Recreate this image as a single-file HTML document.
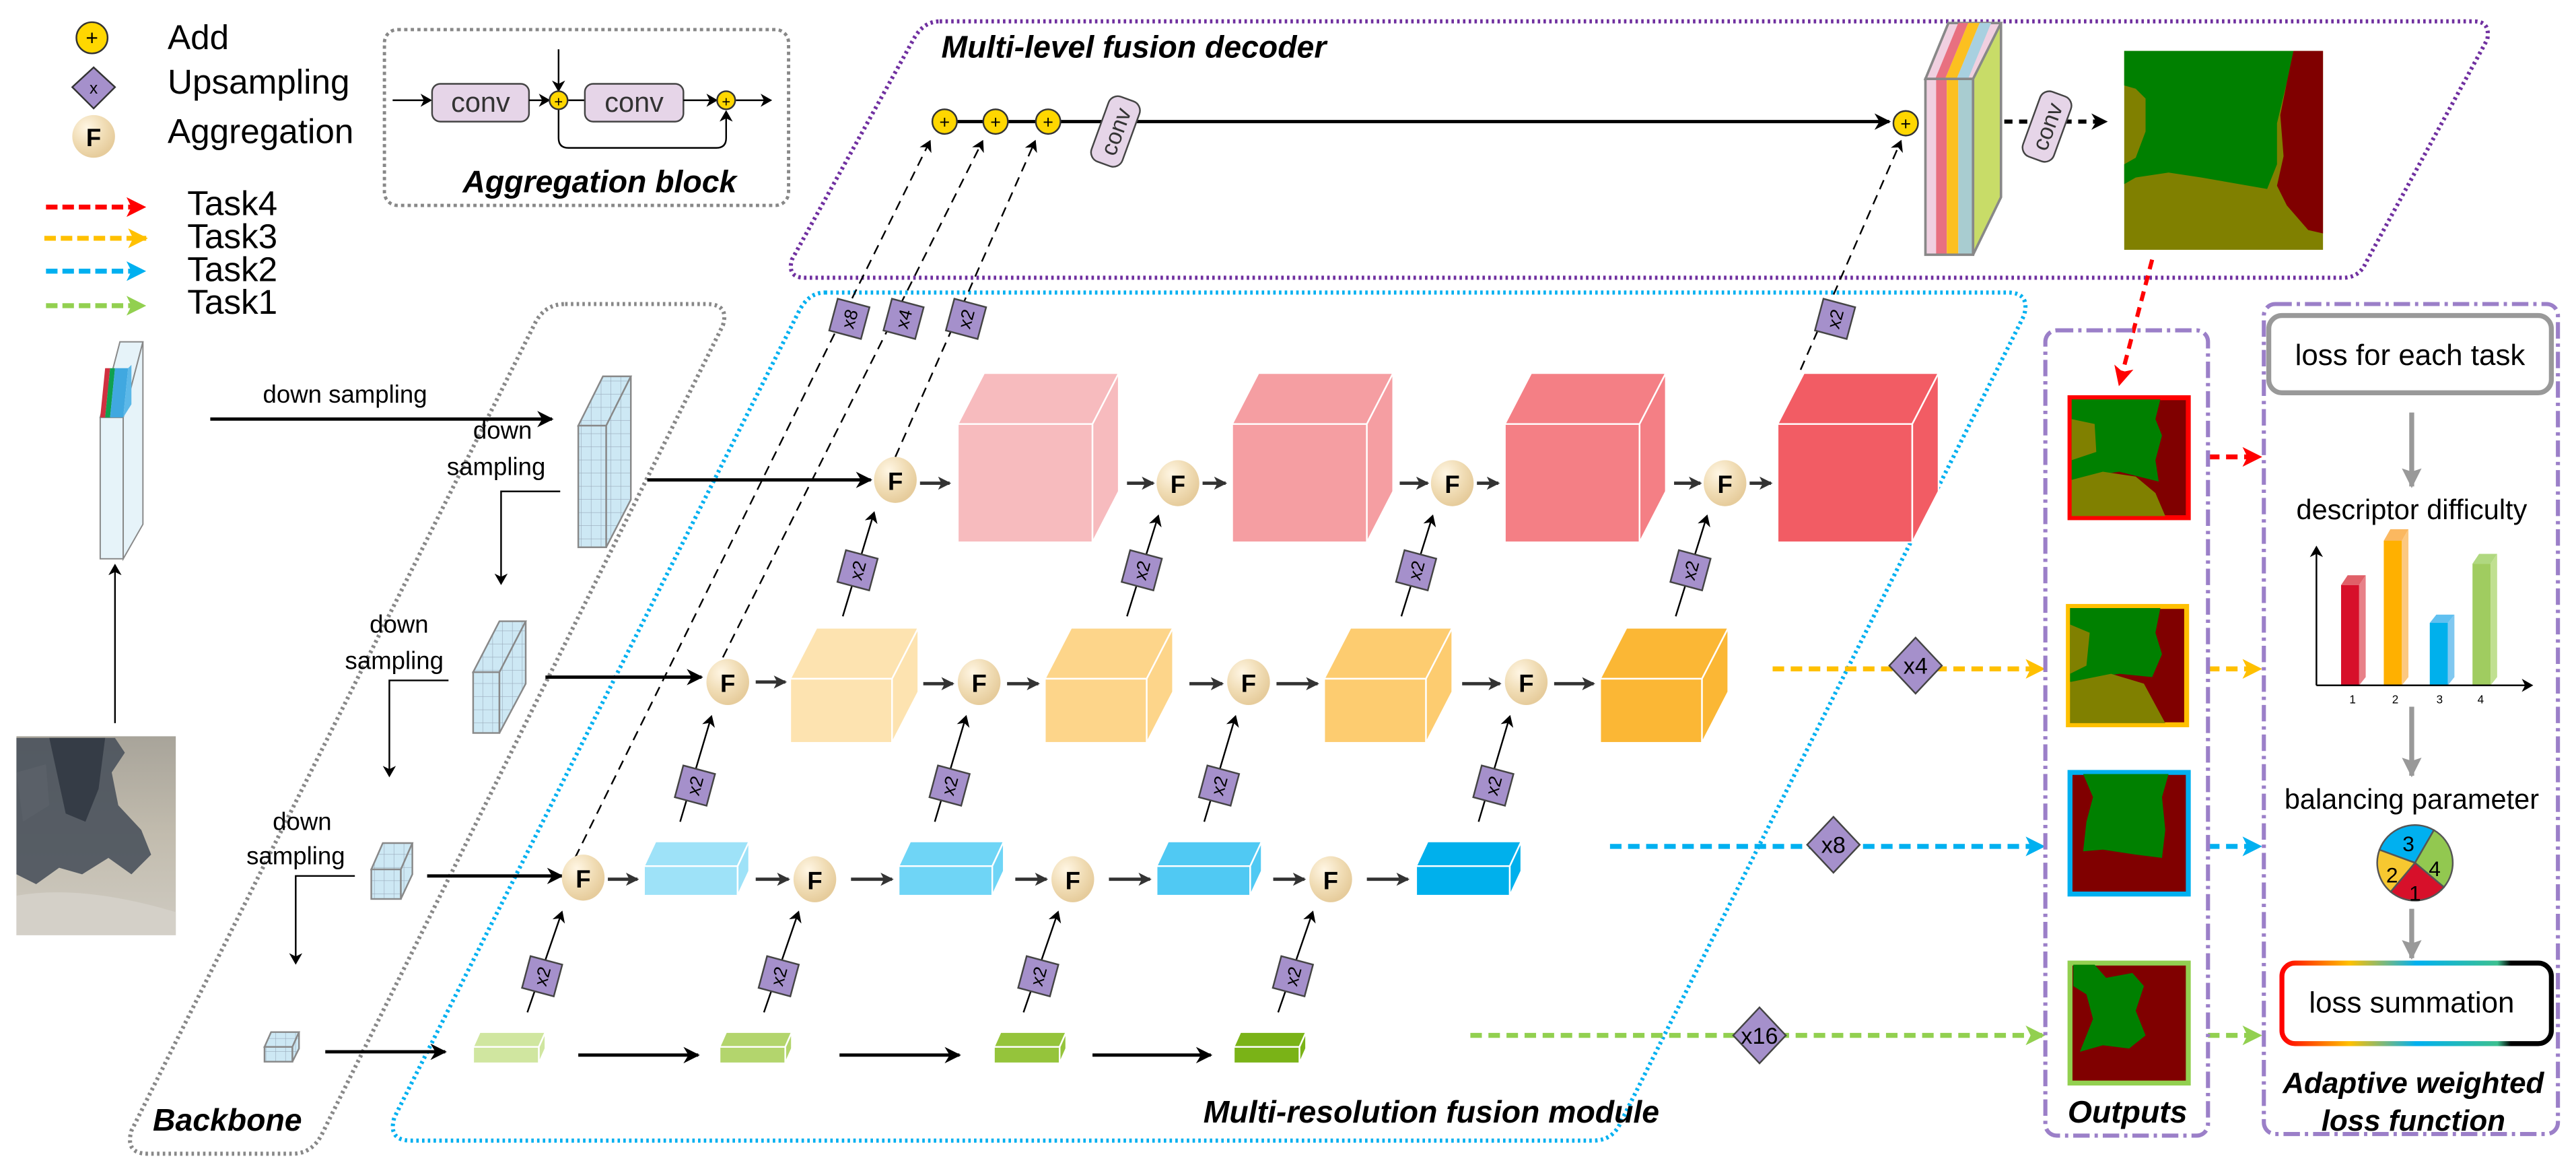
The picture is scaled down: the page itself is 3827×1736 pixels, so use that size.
<!DOCTYPE html>
<html><head><meta charset="utf-8"><style>
html,body{margin:0;padding:0;background:#fff;}
svg{display:block;font-family:"Liberation Sans",Arial,sans-serif;}
</style></head><body>
<svg width="3827" height="1736" viewBox="0 0 1568 711.3" preserveAspectRatio="none" xmlns="http://www.w3.org/2000/svg">
<defs>
<marker id="ak" markerUnits="userSpaceOnUse" markerWidth="10" markerHeight="10" refX="9" refY="5" orient="auto"><path d="M0,0 L10,5 L0,10 L3,5 z" fill="#000"/></marker>
<marker id="ad" markerUnits="userSpaceOnUse" markerWidth="8" markerHeight="8" refX="7" refY="4" orient="auto"><path d="M0,0 L8,4 L0,8 L2,4 z" fill="#333"/></marker>
<marker id="as" markerUnits="userSpaceOnUse" markerWidth="7" markerHeight="8" refX="6" refY="4" orient="auto"><path d="M0,0 L7,4 L0,8 L2,4 z" fill="#000"/></marker>
<marker id="ar" markerUnits="userSpaceOnUse" markerWidth="12" markerHeight="12" refX="11" refY="6" orient="auto"><path d="M0,0 L12,6 L0,12 L3,6 z" fill="#f00"/></marker>
<marker id="ao" markerUnits="userSpaceOnUse" markerWidth="12" markerHeight="12" refX="11" refY="6" orient="auto"><path d="M0,0 L12,6 L0,12 L3,6 z" fill="#ffc000"/></marker>
<marker id="ab" markerUnits="userSpaceOnUse" markerWidth="12" markerHeight="12" refX="11" refY="6" orient="auto"><path d="M0,0 L12,6 L0,12 L3,6 z" fill="#00b0f0"/></marker>
<marker id="ag" markerUnits="userSpaceOnUse" markerWidth="12" markerHeight="12" refX="11" refY="6" orient="auto"><path d="M0,0 L12,6 L0,12 L3,6 z" fill="#92d050"/></marker>
<marker id="ay" markerUnits="userSpaceOnUse" markerWidth="12" markerHeight="12" refX="11" refY="6" orient="auto"><path d="M0,0 L12,6 L0,12 L2,6 z" fill="#999"/></marker>
<radialGradient id="fg" cx="35%" cy="30%" r="70%"><stop offset="0" stop-color="#fff6e4"/><stop offset="0.6" stop-color="#f0dcb4"/><stop offset="1" stop-color="#e6cc9c"/></radialGradient>
<linearGradient id="rb" x1="0" x2="1"><stop offset="0" stop-color="#f00"/><stop offset="0.25" stop-color="#ffc000"/><stop offset="0.5" stop-color="#00b0f0"/><stop offset="0.8" stop-color="#3cc090"/><stop offset="0.85" stop-color="#000"/><stop offset="1" stop-color="#000"/></linearGradient>
<linearGradient id="sat" x1="0" y1="0" x2="0" y2="1"><stop offset="0" stop-color="#a8a49a"/><stop offset="0.5" stop-color="#c2bcae"/><stop offset="1" stop-color="#cfcbc2"/></linearGradient>
<pattern id="grid" width="6" height="8" patternUnits="userSpaceOnUse"><rect width="6" height="8" fill="#cde8f4"/><path d="M6,0 V8 M0,8 H6" stroke="#9ab" stroke-width="0.5"/></pattern>
</defs>

<!-- Legend -->
<circle cx="56" cy="23" r="9.5" fill="#ffd700" stroke="#333" stroke-width="1"/><text x="56" y="27.5" font-size="13" text-anchor="middle">+</text>
<polygon points="57,41 70,53 57,66 44,53" fill="#a590cb" stroke="#333" stroke-width="1"/><text x="57" y="57" font-size="10" text-anchor="middle">x</text>
<ellipse cx="57" cy="83" rx="13" ry="13" fill="url(#fg)"/><text x="57" y="89" font-size="15" font-weight="bold" text-anchor="middle">F</text>
<g font-size="21"><text x="102" y="30">Add</text><text x="102" y="57">Upsampling</text><text x="102" y="87">Aggregation</text>
<text x="114" y="131">Task4</text><text x="114" y="151">Task3</text><text x="114" y="171">Task2</text><text x="114" y="191">Task1</text></g>
<g stroke-width="3" stroke-dasharray="7,3" fill="none">
<line x1="28" y1="126" x2="88" y2="126" stroke="#f00" marker-end="url(#ar)"/>
<line x1="27" y1="145" x2="89" y2="145" stroke="#ffc000" marker-end="url(#ao)"/>
<line x1="28" y1="165" x2="88" y2="165" stroke="#00b0f0" marker-end="url(#ab)"/>
<line x1="28" y1="186" x2="88" y2="186" stroke="#92d050" marker-end="url(#ag)"/></g>

<!-- Aggregation block -->
<rect x="234" y="18" width="246" height="107" rx="8" fill="none" stroke="#888" stroke-width="2" stroke-dasharray="2,2"/>
<line x1="239" y1="61" x2="262" y2="61" stroke="#000" stroke-width="1" marker-end="url(#as)"/>
<rect x="263" y="51" width="59" height="23" rx="5" fill="#e6d5e8" stroke="#444"/><text x="292.5" y="68" font-size="17" text-anchor="middle" fill="#333">conv</text>
<line x1="322" y1="61" x2="334" y2="61" stroke="#000" marker-end="url(#as)"/>
<line x1="340" y1="30" x2="340" y2="55" stroke="#000" marker-end="url(#as)"/>
<circle cx="340" cy="61" r="5.5" fill="#ffd700" stroke="#333"/><text x="340" y="65" font-size="9" text-anchor="middle">+</text>
<line x1="346" y1="61" x2="356" y2="61" stroke="#000"/>
<rect x="356" y="51" width="60" height="23" rx="5" fill="#e6d5e8" stroke="#444"/><text x="386" y="68" font-size="17" text-anchor="middle" fill="#333">conv</text>
<line x1="416" y1="61" x2="436" y2="61" stroke="#000" marker-end="url(#as)"/>
<path d="M340,67 V84 Q340,90 346,90 H436 Q442,90 442,84 V68" fill="none" stroke="#000" marker-end="url(#as)"/>
<circle cx="442" cy="61" r="5.5" fill="#ffd700" stroke="#333"/><text x="442" y="65" font-size="9" text-anchor="middle">+</text>
<line x1="448" y1="61" x2="469" y2="61" stroke="#000" marker-end="url(#as)"/>
<text x="365" y="117" font-size="19" font-weight="bold" font-style="italic" text-anchor="middle">Aggregation block</text>

<!-- Decoder box -->
<path d="M572,13 H1506 Q1516,13 1514,24 L1440,160 Q1436,169 1426,169 H490 Q479,169 482,158 L556,24 Q562,13 572,13 Z" fill="none" stroke="#7030a0" stroke-width="2.5" stroke-dasharray="1.5,2"/>
<text x="573" y="35" font-size="19" font-weight="bold" font-style="italic">Multi-level fusion decoder</text>

<!-- Multi-resolution box -->
<path d="M502,178 H1222 Q1236,178 1232,192 L986,684 Q981,694 970,694 H250 Q236,694 240,680 L486,190 Q492,178 502,178 Z" fill="none" stroke="#00b0f0" stroke-width="2.5" stroke-dasharray="1.5,2"/>
<text x="1010" y="683" font-size="19" font-weight="bold" font-style="italic" text-anchor="end">Multi-resolution fusion module</text>

<!-- Backbone box -->
<path d="M344,185 H430 Q444,185 440,198 L196,690 Q190,702 178,702 H90 Q76,702 80,688 L326,196 Q332,185 344,185 Z" fill="none" stroke="#888" stroke-width="2.5" stroke-dasharray="1.5,2"/>
<text x="93" y="688" font-size="19" font-weight="bold" font-style="italic">Backbone</text>

<!-- Input stack and image -->
<polygon points="61,254 75,254 87,208 73,208" fill="#e6f3f9" stroke="#888" stroke-width="0.8"/>
<rect x="61" y="254" width="14" height="86" fill="#e6f3f9" stroke="#888" stroke-width="0.8"/>
<polygon points="75,254 87,208 87,319 75,340" fill="#e6f3f9" stroke="#888" stroke-width="0.8"/>
<polygon points="61,254 64,224 67,224 64,254" fill="#d03040"/>
<polygon points="64,254 67,224 70,224 67,254" fill="#10a050"/>
<polygon points="67,254 70,224 78,224 75,254" fill="#40a8e0"/>
<polygon points="75,254 78,224 80,222 80,246" fill="#5cb8e8"/>
<line x1="70" y1="440" x2="70" y2="344" stroke="#000" marker-end="url(#as)"/>
<rect x="10" y="448" width="97" height="121" fill="url(#sat)"/>
<path d="M10,449 H70 L76,458 L68,470 L72,490 L86,505 L92,520 L80,532 L66,522 L50,532 L36,528 L22,538 L10,532 Z" fill="#4a525c" opacity="0.9"/>
<path d="M30,449 H64 L60,480 L52,500 L40,495 Z" fill="#353c46"/>
<path d="M10,470 L28,465 L30,490 L14,500 Z" fill="#5a6068"/>
<path d="M10,545 Q50,538 107,555 V569 H10 Z" fill="#d4d0c8"/>

<!-- Down sampling -->
<line x1="128" y1="255" x2="336" y2="255" stroke="#000" stroke-width="2" marker-end="url(#ak)"/>
<text x="160" y="245" font-size="15">down sampling</text>
<text x="288" y="267" font-size="15">down</text><text x="272" y="289" font-size="15">sampling</text>
<path d="M341,299 H305 V355" fill="none" stroke="#000" marker-end="url(#as)"/>
<text x="225" y="385" font-size="15">down</text><text x="210" y="407" font-size="15">sampling</text>
<path d="M273,414 H237 V472" fill="none" stroke="#000" marker-end="url(#as)"/>
<text x="166" y="505" font-size="15">down</text><text x="150" y="526" font-size="15">sampling</text>
<path d="M216,533 H180 V586" fill="none" stroke="#000" marker-end="url(#as)"/>

<!-- grid blocks -->
<g stroke="#888" stroke-width="1">
<polygon points="352,259 369,259 384,229 367,229" fill="url(#grid)"/><rect x="352" y="259" width="17" height="74" fill="url(#grid)"/><polygon points="369,259 384,229 384,304 369,333" fill="url(#grid)"/>
<polygon points="288,409 304,409 320,378 304,378" fill="url(#grid)"/><rect x="288" y="409" width="16" height="37" fill="url(#grid)"/><polygon points="304,409 320,378 320,416 304,446" fill="url(#grid)"/>
<polygon points="226,529 244,529 251,513 233,513" fill="url(#grid)"/><rect x="226" y="529" width="18" height="18" fill="url(#grid)"/><polygon points="244,529 251,513 251,532 244,547" fill="url(#grid)"/>
<polygon points="161,637 178,637 182,628 165,628" fill="url(#grid)"/><rect x="161" y="637" width="17" height="9" fill="url(#grid)"/><polygon points="178,637 182,628 182,638 178,646" fill="url(#grid)"/>
</g>
<line x1="394" y1="292" x2="530" y2="292" stroke="#000" stroke-width="2" marker-end="url(#ak)"/>
<line x1="332" y1="412" x2="427" y2="412" stroke="#000" stroke-width="2" marker-end="url(#ak)"/>
<line x1="260" y1="533" x2="342" y2="533" stroke="#000" stroke-width="2" marker-end="url(#ak)"/>
<line x1="198" y1="640" x2="271" y2="640" stroke="#000" stroke-width="2" marker-end="url(#ak)"/>

<!-- Long dashed to decoder -->
<g stroke="#000" stroke-width="1" stroke-dasharray="6,4" fill="none">
<line x1="350" y1="522" x2="566" y2="86" marker-end="url(#as)"/>
<line x1="440" y1="400" x2="598" y2="86" marker-end="url(#as)"/>
<line x1="545" y1="278" x2="630" y2="86" marker-end="url(#as)"/>
<line x1="1096" y1="225" x2="1157" y2="86" marker-end="url(#as)"/>
</g>

<!-- Row1 cubes (red) -->
<g stroke="#fff" stroke-width="1">
<polygon points="583,258 599,227 681,227 665,258" fill="#f7bbbe"/><rect x="583" y="258" width="82" height="72" fill="#f7bbbe"/><polygon points="665,258 681,227 681,299 665,330" fill="#f7bbbe"/>
<polygon points="750,258 766,227 848,227 832,258" fill="#f59ea2"/><rect x="750" y="258" width="82" height="72" fill="#f59ea2"/><polygon points="832,258 848,227 848,299 832,330" fill="#f59ea2"/>
<polygon points="916,258 932,227 1014,227 998,258" fill="#f47f85"/><rect x="916" y="258" width="82" height="72" fill="#f47f85"/><polygon points="998,258 1014,227 1014,299 998,330" fill="#f47f85"/>
<polygon points="1082,258 1098,227 1180,227 1164,258" fill="#f25c64"/><rect x="1082" y="258" width="82" height="72" fill="#f25c64"/><polygon points="1164,258 1180,227 1180,299 1164,330" fill="#f25c64"/>
<polygon points="481,413 497,382 559,382 543,413" fill="#fde3b0"/><rect x="481" y="413" width="62" height="39" fill="#fde3b0"/><polygon points="543,413 559,382 559,421 543,452" fill="#fde3b0"/>
<polygon points="636,413 652,382 714,382 698,413" fill="#fdd58a"/><rect x="636" y="413" width="62" height="39" fill="#fdd58a"/><polygon points="698,413 714,382 714,421 698,452" fill="#fdd58a"/>
<polygon points="806,413 822,382 884,382 868,413" fill="#fdcc70"/><rect x="806" y="413" width="62" height="39" fill="#fdcc70"/><polygon points="868,413 884,382 884,421 868,452" fill="#fdcc70"/>
<polygon points="974,413 990,382 1052,382 1036,413" fill="#fbb735"/><rect x="974" y="413" width="62" height="39" fill="#fbb735"/><polygon points="1036,413 1052,382 1052,421 1036,452" fill="#fbb735"/>
<polygon points="392,527 399,512 456,512 449,527" fill="#9ee2f8"/><rect x="392" y="527" width="57" height="18" fill="#9ee2f8"/><polygon points="449,527 456,512 456,530 449,545" fill="#9ee2f8"/>
<polygon points="547,527 554,512 611,512 604,527" fill="#6fd5f6"/><rect x="547" y="527" width="57" height="18" fill="#6fd5f6"/><polygon points="604,527 611,512 611,530 604,545" fill="#6fd5f6"/>
<polygon points="704,527 711,512 768,512 761,527" fill="#50c9f3"/><rect x="704" y="527" width="57" height="18" fill="#50c9f3"/><polygon points="761,527 768,512 768,530 761,545" fill="#50c9f3"/>
<polygon points="862,527 869,512 926,512 919,527" fill="#00b0ec"/><rect x="862" y="527" width="57" height="18" fill="#00b0ec"/><polygon points="919,527 926,512 926,530 919,545" fill="#00b0ec"/>
<polygon points="288,637 292,628 332,628 328,637" fill="#d0e6a0"/><rect x="288" y="637" width="40" height="10" fill="#d0e6a0"/><polygon points="328,637 332,628 332,638 328,647" fill="#d0e6a0"/>
<polygon points="438,637 442,628 482,628 478,637" fill="#b3d56d"/><rect x="438" y="637" width="40" height="10" fill="#b3d56d"/><polygon points="478,637 482,628 482,638 478,647" fill="#b3d56d"/>
<polygon points="605,637 609,628 649,628 645,637" fill="#95c43b"/><rect x="605" y="637" width="40" height="10" fill="#95c43b"/><polygon points="645,637 649,628 649,638 645,647" fill="#95c43b"/>
<polygon points="751,637 755,628 795,628 791,637" fill="#7ab317"/><rect x="751" y="637" width="40" height="10" fill="#7ab317"/><polygon points="791,637 795,628 795,638 791,647" fill="#7ab317"/>
</g>
<g stroke="#000" stroke-width="2">
<line x1="352" y1="642" x2="425" y2="642" marker-end="url(#ak)"/>
<line x1="511" y1="642" x2="584" y2="642" marker-end="url(#ak)"/>
<line x1="665" y1="642" x2="737" y2="642" marker-end="url(#ak)"/>
</g>

<!-- F nodes -->
<g font-size="15" font-weight="bold" text-anchor="middle">
<ellipse cx="545" cy="292" rx="13" ry="14" fill="url(#fg)"/><text x="545" y="298">F</text>
<ellipse cx="717" cy="294" rx="13" ry="14" fill="url(#fg)"/><text x="717" y="300">F</text>
<ellipse cx="884" cy="294" rx="13" ry="14" fill="url(#fg)"/><text x="884" y="300">F</text>
<ellipse cx="1050" cy="294" rx="13" ry="14" fill="url(#fg)"/><text x="1050" y="300">F</text>
<ellipse cx="443" cy="415" rx="13" ry="14" fill="url(#fg)"/><text x="443" y="421">F</text>
<ellipse cx="596" cy="415" rx="13" ry="14" fill="url(#fg)"/><text x="596" y="421">F</text>
<ellipse cx="760" cy="415" rx="13" ry="14" fill="url(#fg)"/><text x="760" y="421">F</text>
<ellipse cx="929" cy="415" rx="13" ry="14" fill="url(#fg)"/><text x="929" y="421">F</text>
<ellipse cx="355" cy="534" rx="13" ry="14" fill="url(#fg)"/><text x="355" y="540">F</text>
<ellipse cx="496" cy="535" rx="13" ry="14" fill="url(#fg)"/><text x="496" y="541">F</text>
<ellipse cx="653" cy="535" rx="13" ry="14" fill="url(#fg)"/><text x="653" y="541">F</text>
<ellipse cx="810" cy="535" rx="13" ry="14" fill="url(#fg)"/><text x="810" y="541">F</text>
</g>
<g stroke="#333" stroke-width="2">
<line x1="560" y1="294" x2="578" y2="294" marker-end="url(#ad)"/><line x1="686" y1="294" x2="702" y2="294" marker-end="url(#ad)"/><line x1="732" y1="294" x2="746" y2="294" marker-end="url(#ad)"/>
<line x1="852" y1="294" x2="869" y2="294" marker-end="url(#ad)"/><line x1="899" y1="294" x2="912" y2="294" marker-end="url(#ad)"/>
<line x1="1019" y1="294" x2="1035" y2="294" marker-end="url(#ad)"/><line x1="1065" y1="294" x2="1078" y2="294" marker-end="url(#ad)"/>
<line x1="460" y1="415" x2="478" y2="415" marker-end="url(#ad)"/><line x1="562" y1="416" x2="580" y2="416" marker-end="url(#ad)"/><line x1="613" y1="416" x2="632" y2="416" marker-end="url(#ad)"/>
<line x1="724" y1="416" x2="744" y2="416" marker-end="url(#ad)"/><line x1="777" y1="416" x2="802" y2="416" marker-end="url(#ad)"/>
<line x1="890" y1="416" x2="913" y2="416" marker-end="url(#ad)"/><line x1="946" y1="416" x2="970" y2="416" marker-end="url(#ad)"/>
<line x1="370" y1="535" x2="388" y2="535" marker-end="url(#ad)"/><line x1="460" y1="535" x2="480" y2="535" marker-end="url(#ad)"/><line x1="518" y1="535" x2="543" y2="535" marker-end="url(#ad)"/>
<line x1="618" y1="535" x2="637" y2="535" marker-end="url(#ad)"/><line x1="675" y1="535" x2="700" y2="535" marker-end="url(#ad)"/>
<line x1="775" y1="535" x2="794" y2="535" marker-end="url(#ad)"/><line x1="832" y1="535" x2="857" y2="535" marker-end="url(#ad)"/>
</g>

<!-- small x2 up arrows -->
<g stroke="#000" stroke-width="1">
<line x1="513" y1="375" x2="532" y2="312" marker-end="url(#as)"/><line x1="686" y1="375" x2="705" y2="314" marker-end="url(#as)"/><line x1="853" y1="375" x2="872" y2="314" marker-end="url(#as)"/><line x1="1020" y1="375" x2="1039" y2="314" marker-end="url(#as)"/>
<line x1="414" y1="500" x2="433" y2="436" marker-end="url(#as)"/><line x1="569" y1="500" x2="588" y2="436" marker-end="url(#as)"/><line x1="733" y1="500" x2="752" y2="436" marker-end="url(#as)"/><line x1="900" y1="500" x2="919" y2="436" marker-end="url(#as)"/>
<line x1="321" y1="616" x2="342" y2="555" marker-end="url(#as)"/><line x1="465" y1="616" x2="486" y2="555" marker-end="url(#as)"/><line x1="623" y1="616" x2="644" y2="555" marker-end="url(#as)"/><line x1="778" y1="616" x2="799" y2="555" marker-end="url(#as)"/>
</g>
<g font-size="11">
<g transform="translate(522,347) rotate(15)"><rect x="-10" y="-10" width="20" height="20" fill="#a590cb" stroke="#444"/><text transform="rotate(-90)" x="0" y="4" text-anchor="middle">x2</text></g>
<g transform="translate(695,347) rotate(15)"><rect x="-10" y="-10" width="20" height="20" fill="#a590cb" stroke="#444"/><text transform="rotate(-90)" x="0" y="4" text-anchor="middle">x2</text></g>
<g transform="translate(862,347) rotate(15)"><rect x="-10" y="-10" width="20" height="20" fill="#a590cb" stroke="#444"/><text transform="rotate(-90)" x="0" y="4" text-anchor="middle">x2</text></g>
<g transform="translate(1029,347) rotate(15)"><rect x="-10" y="-10" width="20" height="20" fill="#a590cb" stroke="#444"/><text transform="rotate(-90)" x="0" y="4" text-anchor="middle">x2</text></g>
<g transform="translate(423,478) rotate(15)"><rect x="-10" y="-10" width="20" height="20" fill="#a590cb" stroke="#444"/><text transform="rotate(-90)" x="0" y="4" text-anchor="middle">x2</text></g>
<g transform="translate(578,478) rotate(15)"><rect x="-10" y="-10" width="20" height="20" fill="#a590cb" stroke="#444"/><text transform="rotate(-90)" x="0" y="4" text-anchor="middle">x2</text></g>
<g transform="translate(742,478) rotate(15)"><rect x="-10" y="-10" width="20" height="20" fill="#a590cb" stroke="#444"/><text transform="rotate(-90)" x="0" y="4" text-anchor="middle">x2</text></g>
<g transform="translate(909,478) rotate(15)"><rect x="-10" y="-10" width="20" height="20" fill="#a590cb" stroke="#444"/><text transform="rotate(-90)" x="0" y="4" text-anchor="middle">x2</text></g>
<g transform="translate(330,594) rotate(15)"><rect x="-10" y="-10" width="20" height="20" fill="#a590cb" stroke="#444"/><text transform="rotate(-90)" x="0" y="4" text-anchor="middle">x2</text></g>
<g transform="translate(474,594) rotate(15)"><rect x="-10" y="-10" width="20" height="20" fill="#a590cb" stroke="#444"/><text transform="rotate(-90)" x="0" y="4" text-anchor="middle">x2</text></g>
<g transform="translate(632,594) rotate(15)"><rect x="-10" y="-10" width="20" height="20" fill="#a590cb" stroke="#444"/><text transform="rotate(-90)" x="0" y="4" text-anchor="middle">x2</text></g>
<g transform="translate(787,594) rotate(15)"><rect x="-10" y="-10" width="20" height="20" fill="#a590cb" stroke="#444"/><text transform="rotate(-90)" x="0" y="4" text-anchor="middle">x2</text></g>
<g transform="translate(517,194) rotate(15)"><rect x="-10" y="-10" width="20" height="20" fill="#a590cb" stroke="#444"/><text transform="rotate(-90)" x="0" y="4" text-anchor="middle">x8</text></g>
<g transform="translate(550,194) rotate(15)"><rect x="-10" y="-10" width="20" height="20" fill="#a590cb" stroke="#444"/><text transform="rotate(-90)" x="0" y="4" text-anchor="middle">x4</text></g>
<g transform="translate(588,194) rotate(15)"><rect x="-10" y="-10" width="20" height="20" fill="#a590cb" stroke="#444"/><text transform="rotate(-90)" x="0" y="4" text-anchor="middle">x2</text></g>
<g transform="translate(1117,194) rotate(15)"><rect x="-10" y="-10" width="20" height="20" fill="#a590cb" stroke="#444"/><text transform="rotate(-90)" x="0" y="4" text-anchor="middle">x2</text></g>
</g>

<!-- Decoder content -->
<line x1="582" y1="74" x2="599" y2="74" stroke="#000" stroke-width="2"/>
<line x1="613" y1="74" x2="631" y2="74" stroke="#000" stroke-width="2"/>
<line x1="644" y1="74" x2="1150" y2="74" stroke="#000" stroke-width="2" marker-end="url(#ak)"/>
<g font-size="11" text-anchor="middle">
<circle cx="575" cy="74" r="7.5" fill="#ffd700" stroke="#333"/><text x="575" y="78">+</text>
<circle cx="606" cy="74" r="7.5" fill="#ffd700" stroke="#333"/><text x="606" y="78">+</text>
<circle cx="638" cy="74" r="7.5" fill="#ffd700" stroke="#333"/><text x="638" y="78">+</text>
<circle cx="1160" cy="75" r="7.5" fill="#ffd700" stroke="#333"/><text x="1160" y="79">+</text>
</g>
<g transform="translate(679,80) rotate(-70)"><rect x="-21" y="-10" width="42" height="20" rx="6" fill="#e6d5e8" stroke="#444"/><text x="0" y="5" font-size="14" text-anchor="middle" fill="#333">conv</text></g>
<polygon points="1172,48 1186,14 1218,14 1202,48" fill="#f0d0e0" stroke="#888" stroke-width="1.5"/>
<polygon points="1178,48 1192,14 1198,14 1184,48" fill="#e87080"/>
<polygon points="1184,48 1198,14 1205,14 1191,48" fill="#fcc020"/>
<polygon points="1191,48 1205,14 1212,14 1198,48" fill="#a8d0e0"/>
<rect x="1172" y="48" width="6.5" height="107" fill="#f0d0e0"/>
<rect x="1178.5" y="48" width="6.5" height="107" fill="#e87080"/>
<rect x="1185" y="48" width="7" height="107" fill="#fcc020"/>
<rect x="1192" y="48" width="9" height="107" fill="#a8ccd0"/>
<rect x="1172" y="48" width="29" height="107" fill="none" stroke="#888" stroke-width="1.5"/>
<polygon points="1201,48 1218,14 1218,120 1201,155" fill="#c8dc68" stroke="#888" stroke-width="1.5"/>
<line x1="1220" y1="74" x2="1282" y2="74" stroke="#000" stroke-width="2.5" stroke-dasharray="5,4" marker-end="url(#ak)"/>
<g transform="translate(1246,77) rotate(-70)"><rect x="-21" y="-10" width="42" height="20" rx="6" fill="#e6d5e8" stroke="#444"/><text x="0" y="5" font-size="14" text-anchor="middle" fill="#333">conv</text></g>
<rect x="1293" y="31" width="121" height="121" fill="#808000"/>
<path d="M1293,31 H1396 L1392,50 L1386,75 L1386,100 L1380,115 L1340,108 L1320,105 L1300,108 L1293,112 V100 L1300,96 L1306,80 L1306,60 L1300,54 L1293,52 Z" fill="#008000"/>
<path d="M1396,31 H1414 V142 L1405,140 L1392,125 L1386,113 L1390,95 L1388,70 L1392,50 Z" fill="#800000"/>
<line x1="1310" y1="158" x2="1290" y2="234" stroke="#f00" stroke-width="2.5" stroke-dasharray="6,4" marker-end="url(#ar)"/>

<!-- Task arrows -->
<g stroke-width="3" stroke-dasharray="7,4" fill="none">
<line x1="1079" y1="407" x2="1244" y2="407" stroke="#ffc000" marker-end="url(#ao)"/>
<line x1="980" y1="515" x2="1244" y2="515" stroke="#00b0f0" marker-end="url(#ab)"/>
<line x1="895" y1="630" x2="1244" y2="630" stroke="#92d050" marker-end="url(#ag)"/>
<line x1="1344" y1="278" x2="1376" y2="278" stroke="#f00" marker-end="url(#ar)"/>
<line x1="1344" y1="407" x2="1376" y2="407" stroke="#ffc000" marker-end="url(#ao)"/>
<line x1="1344" y1="515" x2="1376" y2="515" stroke="#00b0f0" marker-end="url(#ab)"/>
<line x1="1344" y1="630" x2="1376" y2="630" stroke="#92d050" marker-end="url(#ag)"/>
</g>
<g font-size="14" text-anchor="middle">
<polygon points="1166,388 1182,405 1166,422 1150,405" fill="#a590cb" stroke="#444"/><text x="1166" y="410">x4</text>
<polygon points="1116,497 1132,514 1116,531 1100,514" fill="#a590cb" stroke="#444"/><text x="1116" y="519">x8</text>
<polygon points="1071,613 1087,630 1071,647 1055,630" fill="#a590cb" stroke="#444"/><text x="1071" y="635">x16</text>
</g>

<!-- Outputs box -->
<rect x="1245" y="201" width="99" height="490" rx="7" fill="none" stroke="#9b7fc8" stroke-width="2.5" stroke-dasharray="10,3,2,3"/>
<text x="1295" y="683" font-size="19" font-weight="bold" font-style="italic" text-anchor="middle">Outputs</text>
<g>
<rect x="1260" y="242" width="72" height="73" fill="#800000" stroke="#f00" stroke-width="3"/>
<path d="M1261,243 H1315 L1312,255 L1316,265 L1312,280 L1314,293 L1290,287 L1270,290 L1261,292 Z" fill="#008000"/>
<path d="M1261,255 L1275,258 L1276,275 L1261,280 Z M1261,292 L1280,287 L1300,290 L1312,300 L1318,314 H1261 Z" fill="#808000"/>
<rect x="1259" y="369" width="72" height="72" fill="#800000" stroke="#ffc000" stroke-width="3"/>
<path d="M1260,370 H1315 L1312,385 L1316,398 L1310,412 L1290,410 L1270,413 L1260,415 Z" fill="#008000"/>
<path d="M1260,380 L1272,385 L1270,405 L1260,410 Z M1260,415 L1285,410 L1305,416 L1318,440 H1260 Z" fill="#808000"/>
<rect x="1260" y="470" width="72" height="74" fill="#800000" stroke="#00b0f0" stroke-width="3"/>
<path d="M1268,471 H1320 L1316,485 L1318,505 L1316,522 L1300,520 L1280,517 L1268,518 L1270,500 L1274,485 Z" fill="#008000"/>
<rect x="1260" y="586" width="72" height="73" fill="#800000" stroke="#92d050" stroke-width="3"/>
<path d="M1262,587 H1275 L1282,595 L1298,592 L1305,600 L1300,615 L1306,630 L1296,638 L1280,636 L1266,640 L1274,620 L1270,605 L1262,600 Z" fill="#008000"/>
</g>

<!-- Adaptive box -->
<rect x="1378" y="185" width="179" height="505" rx="7" fill="none" stroke="#9b7fc8" stroke-width="2.5" stroke-dasharray="10,3,2,3"/>
<rect x="1381" y="192" width="172" height="47" rx="8" fill="#fff" stroke="#999" stroke-width="3"/>
<text x="1467" y="222" font-size="18" text-anchor="middle">loss for each task</text>
<line x1="1468" y1="251" x2="1468" y2="296" stroke="#999" stroke-width="3" marker-end="url(#ay)"/>
<text x="1468" y="316" font-size="17" text-anchor="middle">descriptor difficulty</text>
<polygon points="1425,356 1429,350 1440,350 1436,356" fill="#e06068"/><rect x="1425" y="356" width="11" height="61" fill="#d7102a"/><polygon points="1436,356 1440,350 1440,412 1436,417" fill="#e88088"/>
<polygon points="1451,329 1455,322 1466,322 1462,329" fill="#fbb860"/><rect x="1451" y="329" width="11" height="88" fill="#ffb000"/><polygon points="1462,329 1466,322 1466,412 1462,417" fill="#fcc880"/>
<polygon points="1479,379 1483,374 1494,374 1490,379" fill="#60c0f0"/><rect x="1479" y="379" width="11" height="38" fill="#00b0ec"/><polygon points="1490,379 1494,374 1494,412 1490,417" fill="#80c8f0"/>
<polygon points="1505,343 1509,337 1520,337 1516,343" fill="#b0d880"/><rect x="1505" y="343" width="11" height="74" fill="#a0cc60"/><polygon points="1516,343 1520,337 1520,412 1516,417" fill="#c0e090"/>
<line x1="1410" y1="417" x2="1410" y2="333" stroke="#000" marker-end="url(#as)"/>
<line x1="1410" y1="417" x2="1541" y2="417" stroke="#000" marker-end="url(#as)"/>
<g font-size="7" text-anchor="middle"><text x="1432" y="428">1</text><text x="1458" y="428">2</text><text x="1485" y="428">3</text><text x="1510" y="428">4</text></g>
<line x1="1468" y1="430" x2="1468" y2="472" stroke="#999" stroke-width="3" marker-end="url(#ay)"/>
<text x="1468" y="492" font-size="17" text-anchor="middle">balancing parameter</text>
<g stroke="#555" stroke-width="1">
<path d="M1470,525 L1448.4,517.1 A23,23 0 0 1 1481.5,505.1 Z" fill="#00b0f0"/>
<path d="M1470,525 L1481.5,505.1 A23,23 0 0 1 1487.6,539.8 Z" fill="#92c850"/>
<path d="M1470,525 L1487.6,539.8 A23,23 0 0 1 1455.2,542.6 Z" fill="#d7102a"/>
<path d="M1470,525 L1455.2,542.6 A23,23 0 0 1 1448.4,517.1 Z" fill="#f7c830"/>
</g>
<g font-size="13" text-anchor="middle"><text x="1466" y="518">3</text><text x="1482" y="533">4</text><text x="1470" y="548">1</text><text x="1456" y="537">2</text></g>
<line x1="1468" y1="553" x2="1468" y2="583" stroke="#999" stroke-width="3" marker-end="url(#ay)"/>
<rect x="1389" y="586" width="164" height="49" rx="8" fill="#fff" stroke="url(#rb)" stroke-width="3"/>
<text x="1468" y="616" font-size="18" text-anchor="middle">loss  summation</text>
<text x="1469" y="665" font-size="18" font-weight="bold" font-style="italic" text-anchor="middle">Adaptive weighted</text>
<text x="1469" y="688" font-size="18" font-weight="bold" font-style="italic" text-anchor="middle">loss function</text>
</svg>
</body></html>
